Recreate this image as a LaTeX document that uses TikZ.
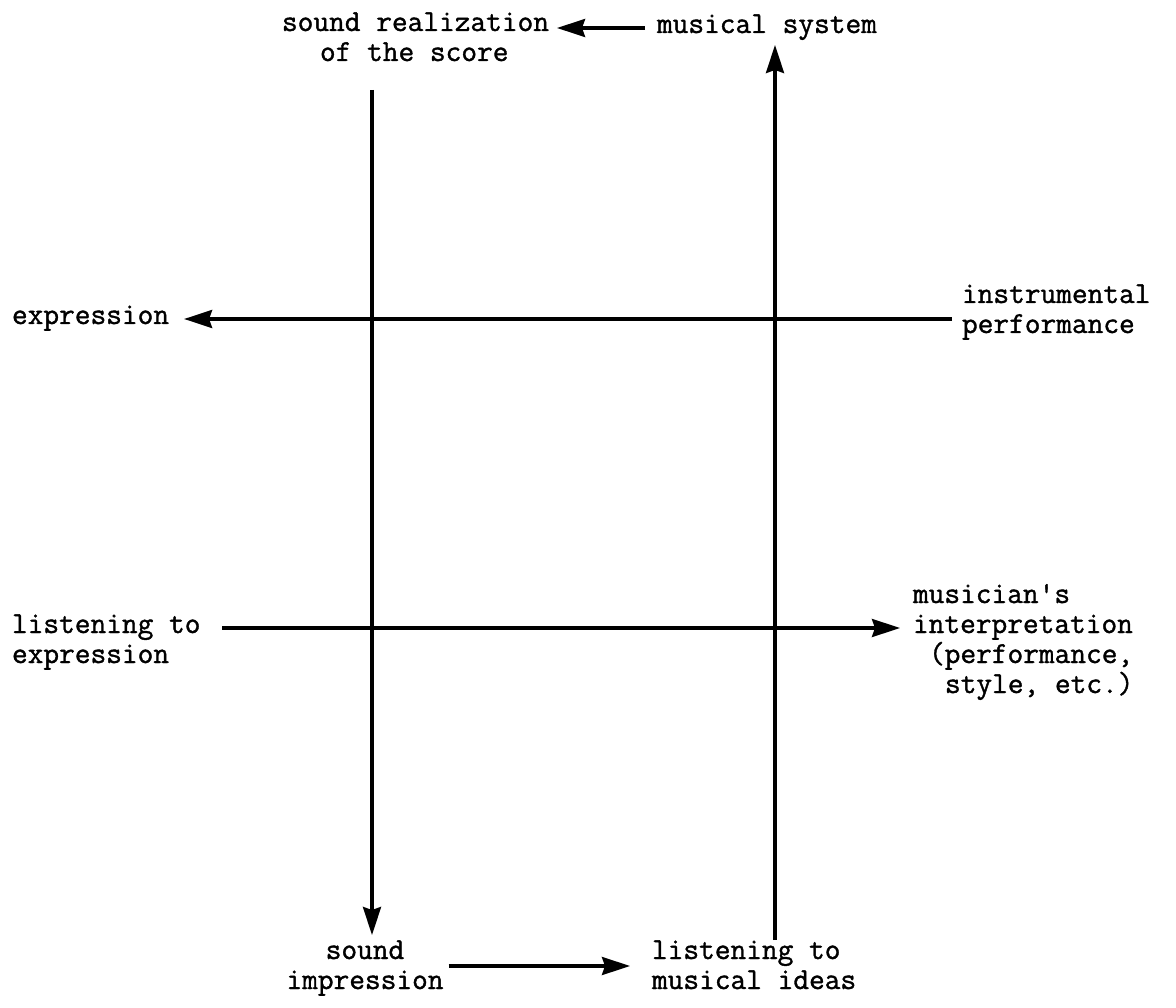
\documentclass[tikz,border=0pt]{standalone}
\usepackage{fontspec}
\newfontfamily\twfont{Latin Modern Mono}[FakeBold=1.2]
\usetikzlibrary{arrows.meta}
\begin{document}
\begin{tikzpicture}[x=1pt,y=-1pt,
  lbl/.style={font=\fontsize{30.5}{30}\selectfont\twfont, inner sep=0pt, outer sep=0pt},
  arr/.style={line width=3.4pt, -{Stealth[length=28pt,width=18pt,inset=3pt]}}]
\useasboundingbox[fill=white] (0,0) rectangle (1176,1008);
% multi-line nodes: base anchor = baseline of last line
\node[lbl, align=left, anchor=base west] (sr) at (282,61) {sound realization\\\hspace*{38pt}of the score};
\node[lbl, anchor=base west] (ms) at (657,33) {musical system};
\node[lbl, anchor=base west] (ex) at (12,324) {expression};
\node[lbl, align=left, anchor=base west] (ip) at (962,333) {instrumental\\performance};
\node[lbl, align=left, anchor=base west] (le) at (12,663) {listening to\\expression};
\node[lbl, align=left, anchor=base west] (mi) at (913,693) {musician\textquotesingle s\\interpretation\\\hspace*{16pt}(performance,\\\hspace*{32pt}style, etc.)};
\node[lbl, align=center, anchor=base] (si) at (365,989) {sound\\impression};
\node[lbl, align=left, anchor=base west] (lm) at (652,989) {listening to\\musical ideas};
\coordinate (l1) at (372,90);
\coordinate (l2) at (372,935);
\coordinate (r1) at (775,940);
\coordinate (r2) at (775,45);
\draw[arr] (l1) -- (l2);
\draw[arr] (r1) -- (r2);
\draw[arr] ([shift={(-12,-5)}]ms.base west) -- ([shift={(8,-33)}]sr.base east);
\draw[arr] ([shift={(-10,-14)}]ip.base west) -- ([shift={(15,-5)}]ex.base east);
\draw[arr] ([shift={(22,-35)}]le.base east) -- ([shift={(-13,-65)}]mi.base west);
\draw[arr] ([shift={(5,-23)}]si.base east) -- ([shift={(-22,-23)}]lm.base west);
\end{tikzpicture}
\end{document}
